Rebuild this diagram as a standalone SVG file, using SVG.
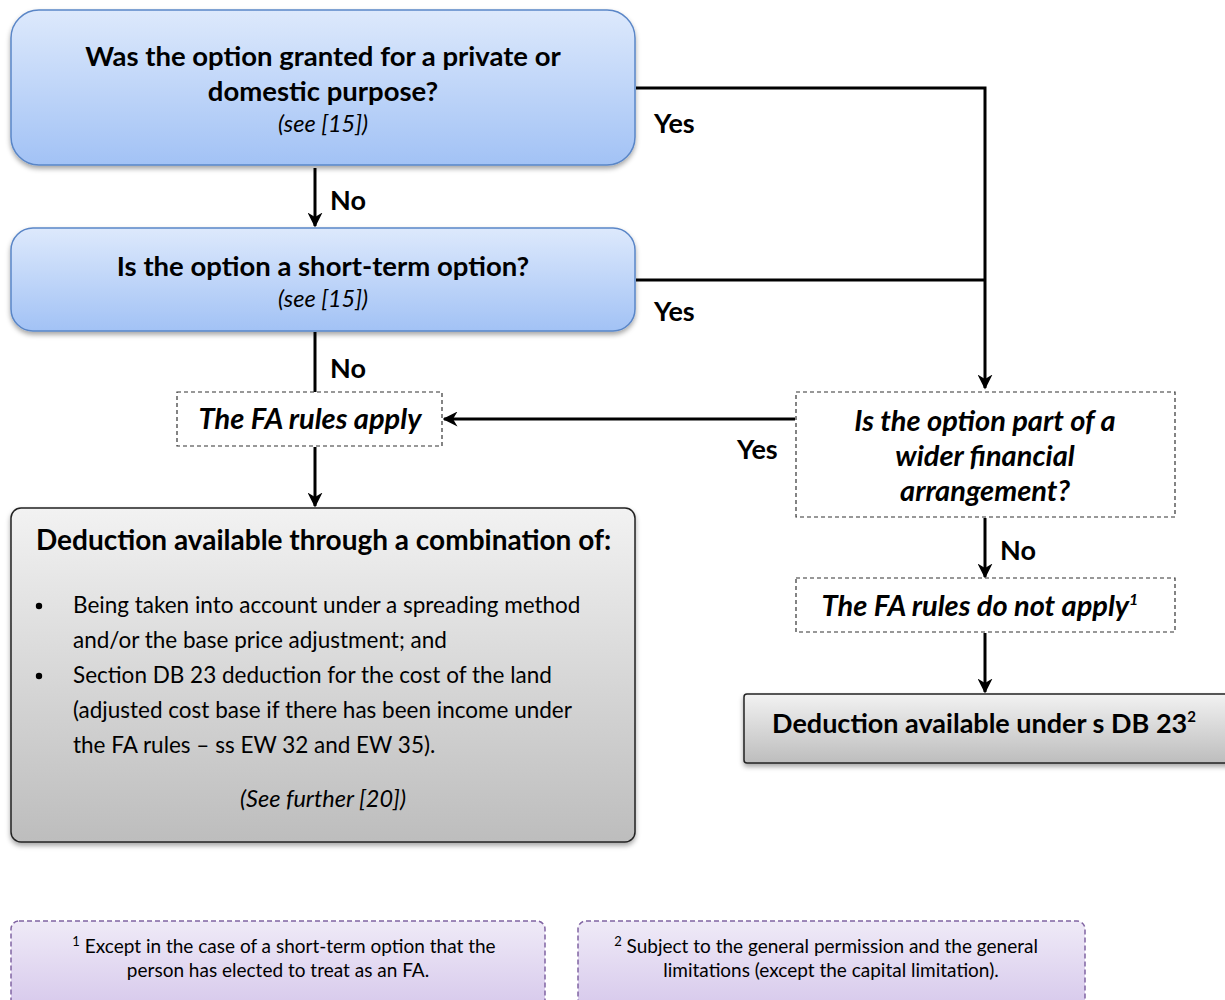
<svg xmlns="http://www.w3.org/2000/svg" width="1225" height="1000" viewBox="0 0 1225 1000">
<defs>
<linearGradient id="blue" x1="0" y1="0" x2="0" y2="1"><stop offset="0" stop-color="#dde9fc"/><stop offset="1" stop-color="#a2c2f5"/></linearGradient>
<linearGradient id="grey" x1="0" y1="0" x2="0" y2="1"><stop offset="0" stop-color="#f2f2f2"/><stop offset="1" stop-color="#bdbdbd"/></linearGradient>
<linearGradient id="purple" x1="0" y1="0" x2="0" y2="1"><stop offset="0" stop-color="#efeaf7"/><stop offset="1" stop-color="#d3c4ea"/></linearGradient>
<filter id="sh" x="-5%" y="-10%" width="110%" height="125%"><feDropShadow dx="0" dy="3" stdDeviation="2.5" flood-color="#000" flood-opacity="0.35"/></filter>
<marker id="ah" viewBox="0 0 10 10" refX="9" refY="5" markerWidth="5" markerHeight="5" orient="auto" markerUnits="strokeWidth"><path d="M0,0 L10,5 L0,10 L3,5 z" fill="#000"/></marker>
</defs>
<style>
text{font-family:Lato,"Open Sans","Liberation Sans",sans-serif;fill:#000}
.b{font-weight:bold}
.i{font-style:italic}
.q{font-size:27.5px;font-weight:bold;text-anchor:middle}
.s{font-size:23.5px;font-style:italic;text-anchor:middle}
.lbl{font-size:27px;font-weight:bold}
.body{font-size:22.5px}
.dash{fill:#fff;stroke:#333;stroke-width:1.2;stroke-dasharray:4,3}
.fn{font-size:19px;text-anchor:middle}
.c{fill:none;stroke:#000;stroke-width:3}
.big{font-size:29px}
</style>
<g id="connectors">
<path class="c" d="M636,88 H985 V388" marker-end="url(#ah)"/>
<path class="c" d="M636,280 H985"/>
<path class="c" d="M315,168 V226" marker-end="url(#ah)"/>
<path class="c" d="M315,332 V392"/>
<path class="c" d="M795,419 H444" marker-end="url(#ah)"/>
<path class="c" d="M315,447 V506" marker-end="url(#ah)"/>
<path class="c" d="M985,518 V577" marker-end="url(#ah)"/>
<path class="c" d="M985,633 V692" marker-end="url(#ah)"/>
<text class="lbl" x="654" y="133">Yes</text>
<text class="lbl" x="654" y="321">Yes</text>
<text class="lbl" x="330" y="210">No</text>
<text class="lbl" x="330" y="378">No</text>
<text class="lbl" x="737" y="459">Yes</text>
<text class="lbl" x="1000" y="560">No</text>
</g>
<g id="q1">
<rect x="11" y="10" width="624" height="155" rx="28" fill="url(#blue)" stroke="#5a86c7" stroke-width="1.5" filter="url(#sh)"/>
<text class="q" x="323" y="66">Was the option granted for a private or</text>
<text class="q" x="323" y="101">domestic purpose?</text>
<text class="s" x="323" y="132">(see [15])</text>
</g>
<g id="q2">
<rect x="11" y="228" width="624" height="103" rx="22" fill="url(#blue)" stroke="#5a86c7" stroke-width="1.5" filter="url(#sh)"/>
<text class="q" x="323" y="276">Is the option a short-term option?</text>
<text class="s" x="323" y="307">(see [15])</text>
</g>
<g id="fa-apply">
<rect class="dash" x="177" y="392" width="265" height="54"/>
<text class="q i big" x="310" y="429">The FA rules apply</text>
</g>
<g id="result-left">
<rect x="11" y="508" width="624" height="334" rx="10" fill="url(#grey)" stroke="#222" stroke-width="1.5" filter="url(#sh)"/>
<text class="b" x="36" y="550" style="font-size:28px">Deduction available through a combination of:</text>
<circle cx="39" cy="606" r="3.2"/>
<circle cx="39" cy="676" r="3.2"/>
<text class="body" x="73" y="613">Being taken into account under a spreading method</text>
<text class="body" x="73" y="648">and/or the base price adjustment; and</text>
<text class="body" x="73" y="683">Section DB 23 deduction for the cost of the land</text>
<text class="body" x="73" y="718">(adjusted cost base if there has been income under</text>
<text class="body" x="73" y="753">the FA rules – ss EW 32 and EW 35).</text>
<text class="s" x="323" y="807">(See further [20])</text>
</g>
<g id="q3">
<rect class="dash" x="796" y="392" width="379" height="125"/>
<text class="q i big" x="985" y="431">Is the option part of a</text>
<text class="q i big" x="985" y="466">wider financial</text>
<text class="q i big" x="985" y="501">arrangement?</text>
</g>
<g id="fa-not-apply">
<rect class="dash" x="796" y="578" width="379" height="54"/>
<text class="q i big" x="980" y="616">The FA rules do not apply<tspan dy="-11" style="font-size:16px">1</tspan></text>
</g>
<g id="result-right">
<rect x="744" y="694" width="490" height="69" rx="3" fill="url(#grey)" stroke="#222" stroke-width="1.5" filter="url(#sh)"/>
<text class="q" x="984" y="733" style="font-size:27px">Deduction available under s DB 23<tspan dy="-11" style="font-size:15px">2</tspan></text>
</g>
<g id="footnote1">
<rect x="11" y="921" width="534" height="100" rx="8" fill="url(#purple)" stroke="#8064a2" stroke-width="1.5" stroke-dasharray="5,3"/>
<text class="fn" x="284" y="953"><tspan dy="-7" style="font-size:13px">1</tspan><tspan dy="7"> Except in the case of a short-term option that the</tspan></text>
<text class="fn" x="278" y="977">person has elected to treat as an FA.</text>
</g>
<g id="footnote2">
<rect x="578" y="921" width="507" height="100" rx="8" fill="url(#purple)" stroke="#8064a2" stroke-width="1.5" stroke-dasharray="5,3"/>
<text class="fn" x="826" y="953"><tspan dy="-7" style="font-size:13px">2</tspan><tspan dy="7"> Subject to the general permission and the general</tspan></text>
<text class="fn" x="831" y="977">limitations (except the capital limitation).</text>
</g>
</svg>
